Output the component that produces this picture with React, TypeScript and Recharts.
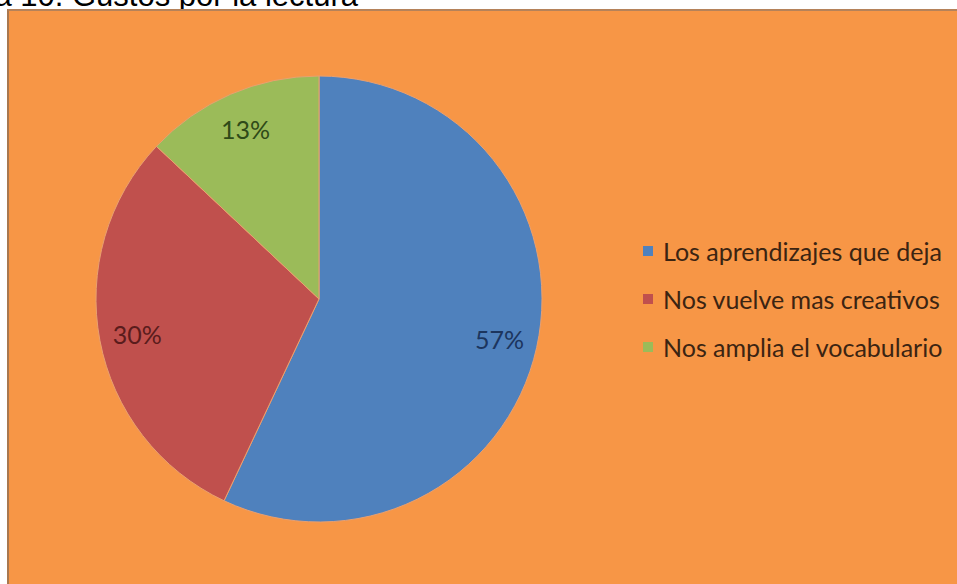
import React from 'react';
import { PieChart, Pie, Cell, Legend } from 'recharts';

const title = 'Gráfica 10. Gustos por la lectura';
const categories = ['Los aprendizajes que deja', 'Nos vuelve mas creativos', 'Nos amplia el vocabulario'];
const values = [57, 30, 13];
const colors = ['#4F81BD', '#C0504D', '#9BBB59'];
const labelColors = ['#1c355e', '#5a1c1c', '#2f4a18'];

const data = categories.map((name, i) => ({ name, value: values[i] }));

const RADIAN = Math.PI / 180;
const FONT = 'Lato, "Noto Sans", sans-serif';

const renderLabel = (props: any) => {
  const { cx, cy, midAngle, outerRadius, value, index } = props;
  const r = outerRadius * 0.83;
  const x = cx + r * Math.cos(-midAngle * RADIAN);
  const y = cy + r * Math.sin(-midAngle * RADIAN);
  return (
    <text x={x} y={y} fill={labelColors[index]} textAnchor="middle" dominantBaseline="central" fontFamily={FONT} fontSize={25}>
      {`${value}%`}
    </text>
  );
};

const renderLegend = (props: any) => {
  const payload = [...(props.payload || [])].sort(
    (a: any, b: any) => categories.indexOf(a.value) - categories.indexOf(b.value)
  );
  return (
    <div style={{ fontFamily: FONT }}>
      {payload.map((entry: any, i: number) => (
        <div key={i} style={{ height: 48, display: 'flex', alignItems: 'center' }}>
          <div style={{ width: 10, height: 10, background: entry.color, marginRight: 10 }} />
          <span style={{ fontSize: 25, color: '#3b2412', whiteSpace: 'nowrap' }}>{entry.value}</span>
        </div>
      ))}
    </div>
  );
};

export default function App() {
  return (
    <div style={{ position: 'fixed', left: 0, top: 0, width: 957, height: 584, overflow: 'hidden', background: '#ffffff' }}>
      <svg width={957} height={20} style={{ position: 'absolute', left: 0, top: 0 }}>
        <text x={358} y={6} textAnchor="end" fontFamily='"Liberation Sans", Arial, sans-serif' fontSize={31} fill="#000">
          {title}
        </text>
      </svg>
      <div
        style={{
          position: 'absolute',
          left: 7,
          top: 9,
          width: 950,
          height: 575,
          boxSizing: 'border-box',
          background: '#F79646',
          borderTop: '2px solid #B5825A',
          borderLeft: '2px solid #A9784F',
        }}
      />
      <div style={{ position: 'absolute', left: 0, top: 0 }}>
        <PieChart width={957} height={584} margin={{ top: 0, right: 0, bottom: 0, left: 0 }}>
          <Pie
            data={data}
            dataKey="value"
            nameKey="name"
            cx={319}
            cy={299}
            outerRadius={223}
            startAngle={90}
            endAngle={-270}
            stroke="#e9a070"
            strokeWidth={1}
            label={renderLabel}
            labelLine={false}
            isAnimationActive={false}
          >
            {data.map((d, i) => (
              <Cell key={d.name} fill={colors[i]} />
            ))}
          </Pie>
          <Legend
            layout="vertical"
            verticalAlign="middle"
            align="right"
            content={renderLegend}
            wrapperStyle={{ position: 'absolute', left: 643, right: 'auto', top: 227, bottom: 'auto', width: 310 }}
          />
        </PieChart>
      </div>
    </div>
  );
}
